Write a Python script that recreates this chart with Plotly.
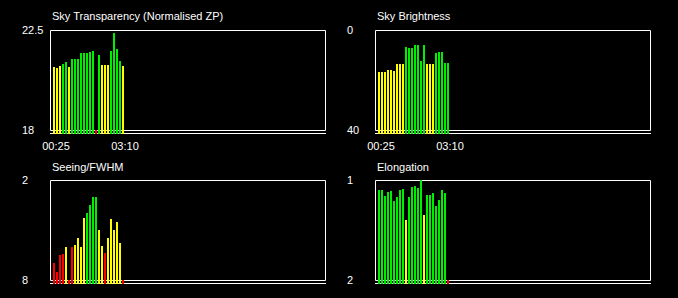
import plotly.graph_objects as go

# ---- data ----
slots = list(range(24))
tick_slots = [0, 23]
tick_labels = ["00:25", "03:10"]

transparency = [20.84, 20.79, 20.88, 20.97, 21.06, 20.84, 21.20, 21.20, 21.20, 21.47, 21.47, 21.47,
                21.51, 21.56, 18.0, 21.38, 20.93, 20.93, 20.93, 21.56, 22.37, 21.65, 21.11, 20.88]
transparency_flag = list("YYYGGYGGGGGGGGRGYYYGGGGY")

brightness = [16.8, 16.8, 16.8, 16.0, 16.0, 16.4, 13.6, 13.6, 13.6, 6.8, 7.2, 7.2,
              6.0, 6.0, 12.4, 6.0, 13.6, 13.6, 13.6, 9.2, 8.8, 8.8, 13.2, 13.2]
brightness_flag = list("YYYYYYYYYGGGGGGGYYYGGGGG")

seeing = [6.98, 7.52, 6.50, 6.44, 6.02, 8.0, 6.02, 5.90, 5.48, 6.02, 4.28, 3.98,
          3.50, 3.02, 3.02, 5.00, 5.96, 6.38, 5.48, 4.34, 5.00, 4.52, 5.78, 8.0]
seeing_flag = list("RRRRYRRYYYYGGGGYYRYYYYYR")

elongation = [1.10, 1.10, 1.16, 1.12, 1.11, 1.21, 1.17, 1.10, 1.09, 1.40, 1.17, 1.07,
              1.06, 1.08, 1.00, 1.35, 1.15, 1.15, 1.13, 1.26, 1.20, 1.10, 1.13, 2.0]
elongation_flag = list("GGGGGGGGGYGGGGGYGGGGGGGR")

titles = ["Sky Transparency (Normalised ZP)", "Sky Brightness", "Seeing/FWHM", "Elongation"]
# axis limits: (value at top of box, value at bottom of box)
limits = [(22.5, 18), (0, 40), (2, 8), (1, 2)]
limit_labels = [("22.5", "18"), ("0", "40"), ("2", "8"), ("1", "2")]

# ---- styling / layout ----
W, H = 678, 298
COL = {"G": "#00ee00", "Y": "#ffff00", "R": "#ff0000"}
FONT = "Liberation Sans, Arial, sans-serif"
# panel geometry in pixel columns/rows: (box_left, box_right, box_top, box_bottom, lower_line)
panels = [(50, 325, 30, 130, 133),
          (375, 650, 30, 130, 133),
          (50, 325, 180, 280, 283),
          (375, 650, 180, 280, 283)]
first_bar_offset = 4.0   # px from box left edge to first bar centre
pitch_px = 3.0

series = [(transparency, transparency_flag), (brightness, brightness_flag),
          (seeing, seeing_flag), (elongation, elongation_flag)]

fig = go.Figure()
layout = dict(width=W, height=H, template="none",
              margin=dict(l=0, r=0, t=0, b=0, pad=0, autoexpand=False),
              paper_bgcolor="black", plot_bgcolor="rgba(0,0,0,0)", showlegend=False,
              bargap=0, annotations=[], shapes=[])


def px(xp):
    return xp / W


def py(yp):
    return 1 - yp / H


for i, ((vals, flags), (top, bot), (lt, lb), title, (L, R, T, B, LL)) in enumerate(
        zip(series, limits, limit_labels, titles, panels)):
    n = i + 1
    xa = "x" if n == 1 else f"x{n}"
    ya = "y" if n == 1 else f"y{n}"
    # plot area in pixels: [L, R+1] x [T, LL+1]
    vpp = (bot - top) / (B - T)
    base = bot + (LL + 1 - B) * vpp
    x0 = -first_bar_offset / pitch_px
    x1 = x0 + (R + 1 - L) / pitch_px
    fig.add_trace(go.Bar(
        x=slots, y=[v - base for v in vals], base=base,
        width=2 / 3, marker=dict(color=[COL[f] for f in flags], line=dict(width=0)),
        xaxis=xa, yaxis=ya, hoverinfo="skip"))
    xkey = "xaxis" if n == 1 else f"xaxis{n}"
    ykey = "yaxis" if n == 1 else f"yaxis{n}"
    layout[xkey] = dict(domain=[px(L), px(R + 1)], range=[x0, x1], anchor=ya,
                        automargin=False,
                        showgrid=False, zeroline=False, showline=False, ticks="",
                        tickvals=tick_slots if n <= 2 else [],
                        ticktext=tick_labels if n <= 2 else [],
                        tickfont=dict(family=FONT, size=11, color="white"),
                        ticklabelshift=2, ticklabelstandoff=4)
    layout[ykey] = dict(domain=[py(LL + 1), py(T)], range=[base, top], anchor=xa,
                        automargin=False,
                        showgrid=False, zeroline=False, showline=False,
                        showticklabels=False, ticks="")
    line = dict(color="white", width=1)
    # box (pixel-centred lines)
    layout["shapes"].append(dict(type="rect", xref="paper", yref="paper",
                                 x0=px(L + 0.5), x1=px(R + 0.5),
                                 y0=py(B + 0.5), y1=py(T + 0.5),
                                 line=line, layer="below"))
    # lower line
    layout["shapes"].append(dict(type="line", xref="paper", yref="paper",
                                 x0=px(L), x1=px(R + 1),
                                 y0=py(LL + 0.5), y1=py(LL + 0.5),
                                 line=line, layer="below"))
    # title
    layout["annotations"].append(dict(text=title, xref="paper", yref="paper",
                                      x=px(L), y=py(T - 13.5),
                                      xanchor="left", yanchor="middle", showarrow=False,
                                      font=dict(family=FONT, size=11, color="white")))
    # y limit labels (left aligned)
    for lab, val in ((lt, top), (lb, bot)):
        layout["annotations"].append(dict(text=lab, xref="paper", yref=ya,
                                          x=px(L - 30), y=val,
                                          xanchor="left", yanchor="middle", showarrow=False,
                                          font=dict(family=FONT, size=11, color="white")))

fig.update_layout(**layout)
fig.write_html("out.html")
